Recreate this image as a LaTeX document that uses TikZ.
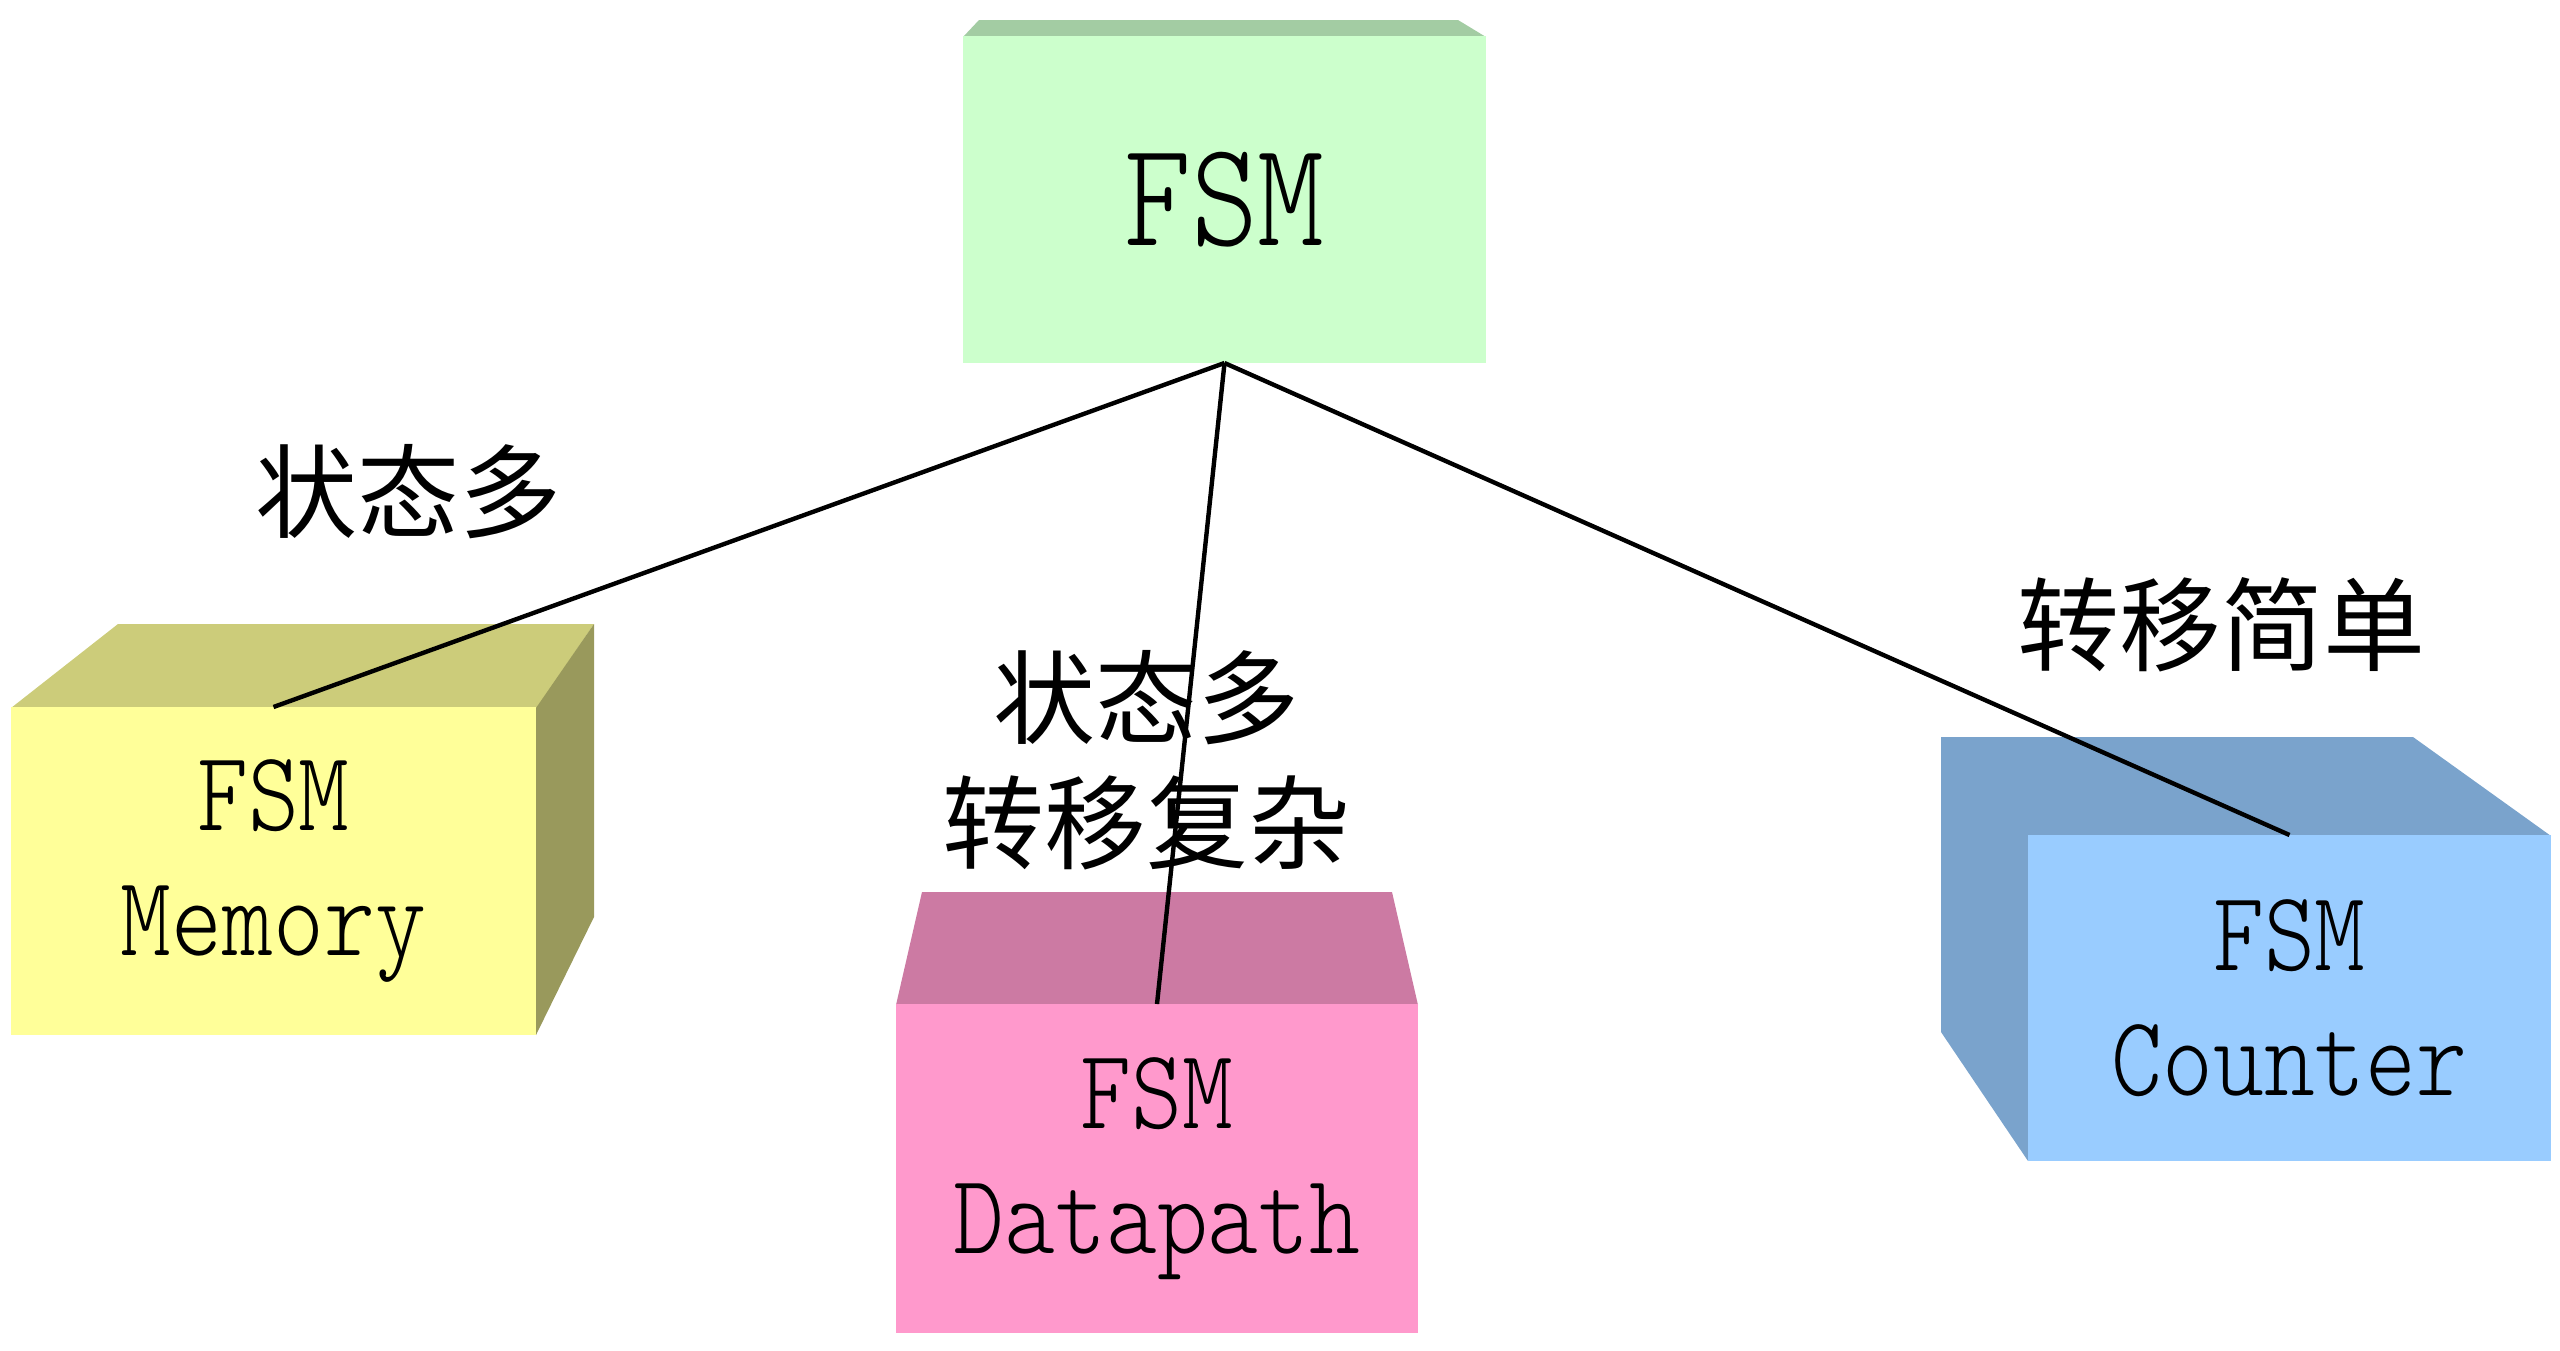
\documentclass[tikz,border=0pt]{standalone}
\usepackage{fontspec}
\newfontfamily\cjk{Noto Sans CJK SC}
\newfontfamily\latmono{lmmonolt10-regular.otf}[FakeStretch=0.85]
\definecolor{fsmfront}{HTML}{CCFFCC}
\definecolor{fsmtop}{HTML}{A3CCA3}
\definecolor{memfront}{HTML}{FFFF99}
\definecolor{memtop}{HTML}{CCCC7A}
\definecolor{memside}{HTML}{99995C}
\definecolor{dpfront}{HTML}{FF99CC}
\definecolor{dptop}{HTML}{CC7AA3}
\definecolor{cntfront}{HTML}{99CCFF}
\definecolor{cnttop}{HTML}{7AA3CC}
\begin{document}
\begin{tikzpicture}[x=0.5pt,y=-0.5pt,
  face/.style={inner sep=0pt, outer sep=0pt, anchor=north west, align=center},
  boxtext/.style={font=\fontsize{57}{62.5}\selectfont\latmono},
  bigtext/.style={font=\fontsize{75}{80}\selectfont\latmono},
  lbl/.style={font=\fontsize{51}{62.5}\selectfont\cjk, align=center, inner sep=0pt},
  conn/.style={line width=2.2pt, black}]
\useasboundingbox (0,0) rectangle (2560,1350);
% top FSM box
\fill[fsmtop] (963,37) -- (979,20) -- (1458,20) -- (1486,37) -- cycle;
\node[face, bigtext, fill=fsmfront, minimum width=261.5pt, minimum height=163.5pt] (fsm) at (963,36) {FSM};
% Memory box
\fill[memtop] (11,708) -- (118,624) -- (594,624) -- (537,708) -- cycle;
\fill[memside] (536,708) -- (594,624) -- (594,917) -- (536,1035) -- cycle;
\node[face, boxtext, fill=memfront, minimum width=262.5pt, minimum height=164pt] (mem) at (11,707) {FSM\\Memory};
% Datapath box
\fill[dptop] (896,1005) -- (922,892) -- (1392,892) -- (1418,1005) -- cycle;
\node[face, boxtext, fill=dpfront, minimum width=261pt, minimum height=164.5pt] (dp) at (896,1004) {FSM\\Datapath};
% Counter box
\fill[cnttop] (2551,836) -- (2413,737) -- (1941,737) -- (1941,1032) -- (2028,1161) -- (2028,836) -- cycle;
\node[face, boxtext, fill=cntfront, minimum width=261.5pt, minimum height=163pt] (cnt) at (2028,835) {FSM\\Counter};
% labels
\node[lbl] (l1) at (408,492) {状态多};
\node[lbl] (l2) at (1146,760) {状态多\\转移复杂};
\node[lbl] (l3) at (2221,625) {转移简单};
% connectors
\draw[conn] (fsm.south) -- (mem.north);
\draw[conn] (fsm.south) -- (dp.north);
\draw[conn] (fsm.south) -- (cnt.north);
\end{tikzpicture}
\end{document}
